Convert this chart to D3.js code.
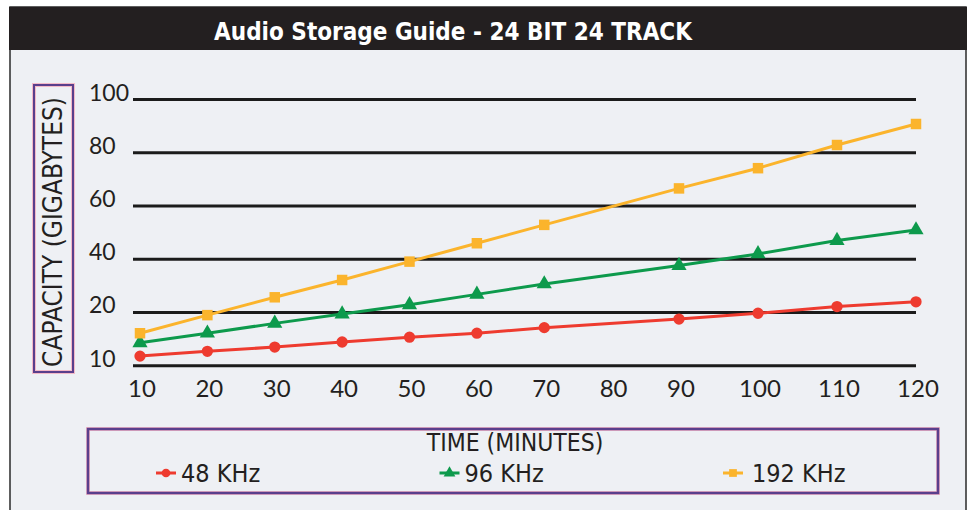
<!DOCTYPE html>
<html><head><meta charset="utf-8">
<script src="https://cdn.jsdelivr.net/npm/d3@7"></script>
<style>html,body{margin:0;padding:0;background:#fff;}svg{display:block;}</style>
</head><body>
<script>
const title = "Audio Storage Guide - 24 BIT 24 TRACK";
const yTitle = "CAPACITY (GIGABYTES)";
const xTitle = "TIME (MINUTES)";
const minutes = [10, 20, 30, 40, 50, 60, 70, 90, 100, 110, 120];
const xTicks = [10, 20, 30, 40, 50, 60, 70, 80, 90, 100, 110, 120];
const yTickValues = [0, 20, 40, 60, 80, 100];
const yTickLabels = ["10", "20", "40", "60", "80", "100"];
const seriesNames = ["48 KHz", "96 KHz", "192 KHz"];
const s48 = [3.6, 5.4, 7.0, 8.9, 10.7, 12.2, 14.3, 17.5, 19.7, 22.2, 24.0];
const s96 = [8.6, 12.2, 15.9, 19.4, 22.9, 26.8, 30.7, 37.6, 42.0, 47.0, 51.0];
const s192 = [12.2, 19.0, 25.7, 32.2, 39.1, 46.0, 52.9, 66.6, 74.2, 82.9, 90.8];
const colors = ["#ee3b2f", "#0d9a4c", "#fbb42c"];
const symbols = [d3.symbolCircle, d3.symbolTriangle, d3.symbolSquare];

const W = 970, H = 510;
const svg = d3.select("body").append("svg").attr("width", W).attr("height", H);
const font = "'DejaVu Sans Condensed', 'Liberation Sans Narrow', sans-serif";

// panel
svg.append("rect").attr("x", 10).attr("y", 7).attr("width", 956).attr("height", 510)
  .attr("fill", "#eef0f4").attr("stroke", "#2a2a2a").attr("stroke-width", 1.5);
svg.append("rect").attr("x", 9).attr("y", 7).attr("width", 958).attr("height", 43).attr("fill", "#231f20");
svg.append("text").attr("x", 453).attr("y", 40).attr("text-anchor", "middle")
  .attr("fill", "#fff").attr("font-family", font).attr("font-weight", "bold")
  .attr("font-size", 24).text(title);

const x = d3.scaleLinear().domain([10, 90, 120]).range([140, 679, 916]);
const y = d3.scaleLinear().domain([0, 100]).range([365.7, 99.5]);

// gridlines
svg.append("g").selectAll("line").data(yTickValues).join("line")
  .attr("x1", 133).attr("x2", 916).attr("y1", d => y(d)).attr("y2", d => y(d))
  .attr("stroke", "#1b1b1b").attr("stroke-width", 3);

// y tick labels
svg.append("g").selectAll("text").data(yTickValues).join("text")
  .attr("x", 89).attr("y", d => y(d) + 1).attr("fill", "#231f20")
  .attr("font-family", "Lato, sans-serif").attr("font-size", 23)
  .text((d, i) => yTickLabels[i]);

// x tick labels
svg.append("g").selectAll("text").data(xTicks).join("text")
  .attr("x", d => x(d) + 2).attr("y", 397).attr("text-anchor", "middle").attr("fill", "#231f20")
  .attr("font-family", "Lato, sans-serif").attr("font-size", 24)
  .text(d => d);

// y title box
svg.append("rect").attr("x", 34).attr("y", 85).attr("width", 39).attr("height", 287)
  .attr("fill", "none").attr("stroke", "#f3b9c8").attr("stroke-width", 4);
svg.append("rect").attr("x", 34).attr("y", 85).attr("width", 39).attr("height", 287)
  .attr("fill", "none").attr("stroke", "#5a3f8c").attr("stroke-width", 2);
svg.append("text").attr("transform", "translate(62,232) rotate(-90)")
  .attr("text-anchor", "middle").attr("fill", "#231f20")
  .attr("font-family", font).attr("font-size", 26).text(yTitle);

// series
const series = [s48, s96, s192];
const line = d3.line().x((d, i) => x(minutes[i])).y(d => y(d));
series.forEach((vals, k) => {
  const g = svg.append("g");
  g.append("path").datum(vals).attr("d", line).attr("fill", "none")
    .attr("stroke", colors[k]).attr("stroke-width", 3);
  g.selectAll("path.m").data(vals).join("path").attr("class", "m")
    .attr("transform", (d, i) => `translate(${x(minutes[i])},${y(d)})`)
    .attr("d", d3.symbol().type(symbols[k]).size(k === 2 ? 110 : 100))
    .attr("fill", colors[k]);
});

// legend box
svg.append("rect").attr("x", 88).attr("y", 429).attr("width", 850).attr("height", 64)
  .attr("fill", "none").attr("stroke", "#f3b9c8").attr("stroke-width", 4);
svg.append("rect").attr("x", 88).attr("y", 429).attr("width", 850).attr("height", 64)
  .attr("fill", "none").attr("stroke", "#5a3f8c").attr("stroke-width", 2.5);
svg.append("text").attr("x", 515).attr("y", 451).attr("text-anchor", "middle")
  .attr("fill", "#231f20").attr("font-family", font).attr("font-size", 24.5).text(xTitle);

const legX = d3.scalePoint().domain(seriesNames).range([166, 733]);
const lg = svg.append("g").selectAll("g").data(seriesNames).join("g")
  .attr("transform", d => `translate(${legX(d)},473)`);
lg.append("line").attr("x1", -10).attr("x2", 10).attr("stroke", (d, i) => colors[i]).attr("stroke-width", 3);
lg.append("path").attr("d", (d, i) => d3.symbol().type(symbols[i]).size(60)())
  .attr("fill", (d, i) => colors[i]);
lg.append("text").attr("x", (d, i) => i === 2 ? 19 : 15).attr("y", 9).attr("fill", "#231f20")
  .attr("font-family", font).attr("font-size", 25).text(d => d);
</script>
</body></html>
